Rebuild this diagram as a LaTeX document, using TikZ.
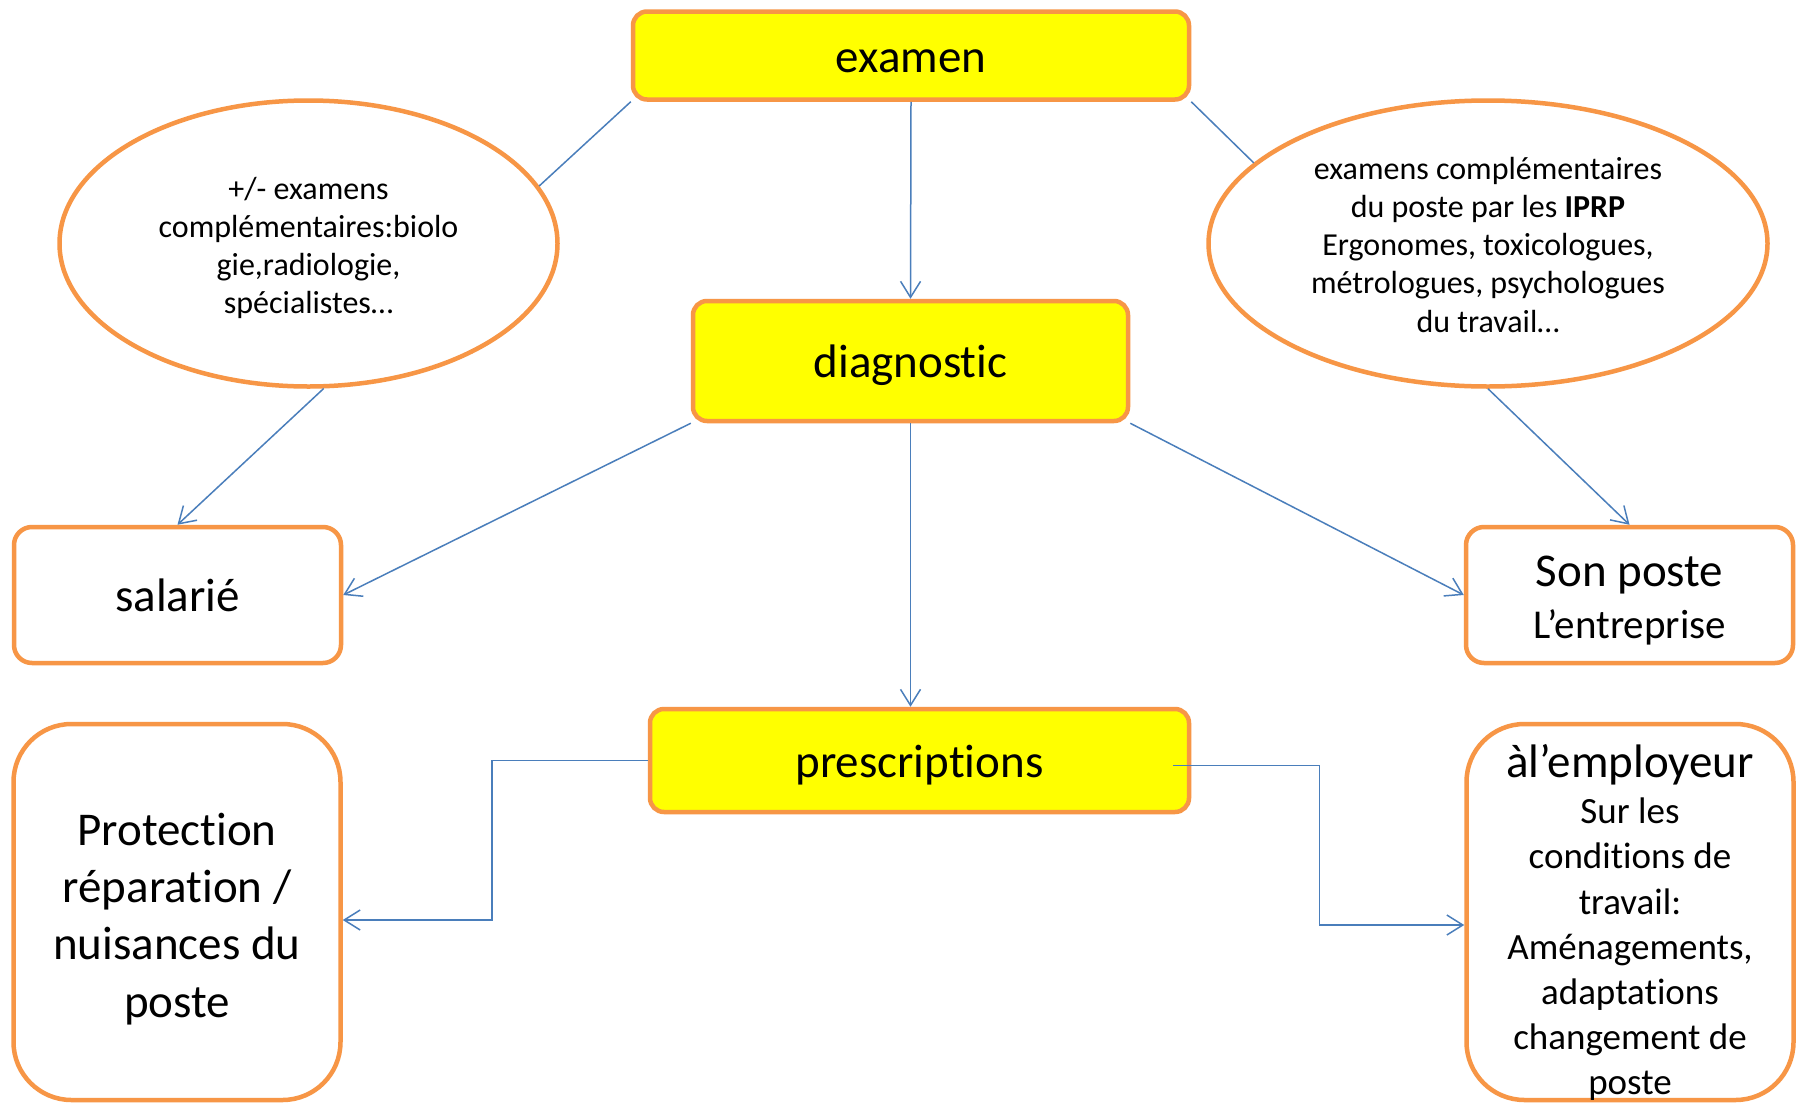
\documentclass[tikz,border=0pt]{standalone}
\usepackage{fontspec}
\setmainfont{Carlito}[Ligatures=NoCommon]
\usetikzlibrary{arrows.meta,shapes.geometric}
\definecolor{borange}{HTML}{F79646}
\definecolor{cblue}{HTML}{4A7EBB}
\definecolor{byellow}{HTML}{FFFF00}
\newcommand{\ps}{\rule[-0.25em]{0pt}{1.22em}}
\newcommand{\psx}[1]{\rule[-0.25em]{0pt}{\dimexpr1.22em+#1\relax}}
\newcommand{\pse}{\rule[-9.4pt]{0pt}{44.4pt}}
\newcommand{\pso}[1]{\rule[-8pt]{0pt}{\dimexpr38.2pt+#1\relax}}
\newcommand{\fs}[1]{\fontsize{#1}{1.22\dimexpr #1pt\relax}\selectfont\lineskip=0pt\relax}
\newcommand{\fso}{\fontsize{32}{38.2}\selectfont\lineskip=0pt\relax}
\begin{document}
\begin{tikzpicture}[x=1pt,y=-1pt,
  ybox/.style={draw=borange, fill=byellow, line width=4.5pt, rounded corners=14pt, inner sep=0pt, font=\fs{47}},
  wbox/.style={draw=borange, fill=white, line width=4.5pt, inner sep=0pt, align=center},
  oval/.style={ellipse, draw=borange, fill=white, line width=4.5pt, inner sep=0pt, align=center, font=\fso},
  conn/.style={draw=cblue, line width=1.5pt},
  arr/.style={conn, -{Straight Barb[length=16pt,width=20pt,line width=1.5pt]}}
]
\fill[white] (0,0) rectangle (1802,1103);
\useasboundingbox (0,0) rectangle (1802,1103);

\node[ybox, minimum width=556pt, minimum height=88pt] (examen) at (911,55.5) {\ps examen};
\node[ybox, minimum width=435pt, minimum height=120pt] (diag) at (910.5,361) {\ps diagnostic};
\node[ybox, minimum width=539pt, minimum height=103pt] (presc) at (919.5,760.5) {\ps prescriptions};

\node[oval, minimum width=498pt, minimum height=286pt] (lell) at (308.5,243.5)
  {\pso{3.5pt}+/- examens\\\pso{0pt}complémentaires:biolo\\\pso{0pt}gie,radiologie,\\\pso{0pt}spécialistes…};
\node[oval, minimum width=559pt, minimum height=286pt] (rell) at (1488,243.5)
  {\pso{2pt}examens complémentaires\\\pso{0pt}du poste par les \textbf{IPRP}\\\pso{0pt}Ergonomes, toxicologues,\\\pso{0pt}métrologues, psychologues\\\pso{0pt}du travail…};

\node[wbox, rounded corners=18pt, minimum width=327pt, minimum height=136pt, font=\fs{47}] (sal) at (177.5,595) {\ps salarié};
\node[wbox, rounded corners=18pt, minimum width=327pt, minimum height=136pt, font=\fs{41}] (son) at (1629.5,595) {{\fs{47}\ps Son poste}\\\ps L’entreprise};
\node[wbox, rounded corners=58pt, minimum width=327pt, minimum height=376pt, font=\fs{47}] (prot) at (177,912) {\psx{4.5pt}Protection\\\ps réparation /\\\ps nuisances du\\\ps poste};
\node[wbox, rounded corners=58pt, minimum width=327pt, minimum height=376pt, font=\fs{37}] (emp) at (1630,912) {{\fs{47}\psx{2pt}àl’employeur}\\\pse Sur les\\\pse conditions de\\\pse travail:\\\pse Aménagements,\\\pse adaptations\\\pse changement de\\\rule{0pt}{35pt}\smash{poste}};

\draw[conn] (examen.south west) -- (lell.14);
\draw[conn] (examen.south east) -- (rell.161);
\draw[arr] (examen.south) -- (diag.north);
\draw[arr] (lell.-84) -- (sal.north);
\draw[arr] (rell.south) -- (son.north);
\draw[arr] (diag.south west) -- (sal.east);
\draw[arr] (diag.south east) -- (son.west);
\draw[arr] (diag.south) -- (diag.south |- presc.north);
\draw[arr] (presc.west) -- ++(-156,0) |- ([yshift=-8pt]prot.east);
\draw[arr] ([xshift=-18pt,yshift=-5pt]presc.east) -- ++(146,0) |- ([yshift=-13pt]emp.west);
\end{tikzpicture}
\end{document}
